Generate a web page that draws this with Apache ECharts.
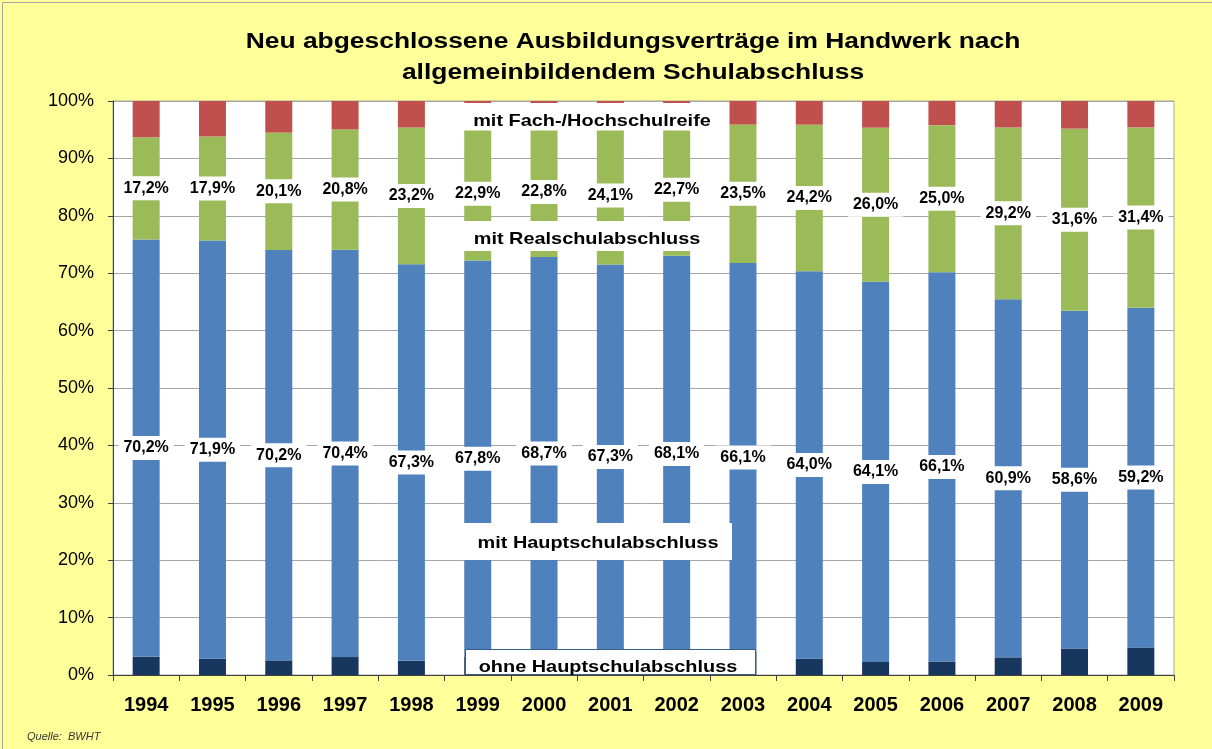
<!DOCTYPE html>
<html>
<head>
<meta charset="utf-8">
<script src="https://cdn.jsdelivr.net/npm/echarts@6/dist/echarts.min.js"></script>
<style>
html,body{margin:0;padding:0;background:#FFFF99;}
#chart{width:1212px;height:749px;}
</style>
</head>
<body>
<div id="chart"></div>
<script>
// Jahre
var years = ['1994','1995','1996','1997','1998','1999','2000','2001','2002','2003','2004','2005','2006','2007','2008','2009'];
// Anteile in % (Werte wie angegeben / aus dem Bild geschätzt)
var ohneHaupt = [3.1, 2.8, 2.5, 3.1, 2.4, 3.1, 4.4, 4.5, 3.9, 3.9, 2.7, 2.2, 2.3, 3.0, 4.6, 4.8];
var mitHaupt  = [70.2, 71.9, 70.2, 70.4, 67.3, 67.8, 68.7, 67.3, 68.1, 66.1, 64.0, 64.1, 66.1, 60.9, 58.6, 59.2];
var mitReal   = [17.2, 17.9, 20.1, 20.8, 23.2, 22.9, 22.8, 24.1, 22.7, 23.5, 24.2, 26.0, 25.0, 29.2, 31.6, 31.4];
var mitHoch   = [6.1, 6.1, 5.4, 4.9, 4.5, 4.4, 4.5, 4.5, 3.9, 4.0, 3.9, 4.5, 4.1, 4.5, 4.8, 4.6];
var yTicks = [0,10,20,30,40,50,60,70,80,90,100];

// 100%-Stapel: Normierung auf die Summe je Jahr
var totals = years.map(function(_, i){ return ohneHaupt[i] + mitHaupt[i] + mitReal[i] + mitHoch[i]; });
function share(arr){ return arr.map(function(v, i){ return v / totals[i] * 100; }); }
function fmt(v){ return v.toFixed(1).replace('.', ',') + '%'; }

var FONT = 'Liberation Sans, Arial, sans-serif';
var dataLabel = function(src){
  return {
    show: true, position: 'inside',
    formatter: function(p){ return fmt(src[p.dataIndex]); },
    color: '#000', fontFamily: FONT, fontWeight: 'bold', fontSize: 16,
    lineHeight: 18, backgroundColor: '#fff', padding: [3, 5]
  };
};

var chart = echarts.init(document.getElementById('chart'), null, {renderer: 'canvas'});
var option = {
  backgroundColor: '#FFFF99',
  animation: false,
  grid: {left: 113, right: 38, top: 101, bottom: 74, show: true, backgroundColor: '#fff', borderColor: '#A6A6A6', borderWidth: 1},
  xAxis: {
    type: 'category', data: years,
    axisLine: {lineStyle: {color: '#404040', width: 1}},
    axisTick: {show: true, length: 6, lineStyle: {color: '#404040'}},
    axisLabel: {color: '#000', fontFamily: FONT, fontWeight: 'bold', fontSize: 20, lineHeight: 20, margin: 20}
  },
  yAxis: {
    type: 'value', min: 0, max: 100, interval: 10,
    axisLine: {show: true, lineStyle: {color: '#404040', width: 1}},
    axisTick: {show: true, length: 5, lineStyle: {color: '#404040'}},
    axisLabel: {color: '#000', fontFamily: FONT, fontSize: 18, margin: 19,
      formatter: function(v){ return yTicks.indexOf(v) >= 0 ? v + '%' : ''; }},
    splitLine: {show: true, lineStyle: {color: '#A6A6A6', width: 1}}
  },
  series: [
    {name: 'ohne Hauptschulabschluss', type: 'bar', stack: 'a', barWidth: 27, data: share(ohneHaupt), itemStyle: {color: '#17375E'}},
    {name: 'mit Hauptschulabschluss', type: 'bar', stack: 'a', barWidth: 27, data: share(mitHaupt), itemStyle: {color: '#4F81BD'}, label: dataLabel(mitHaupt)},
    {name: 'mit Realschulabschluss', type: 'bar', stack: 'a', barWidth: 27, data: share(mitReal), itemStyle: {color: '#9BBB59'}, label: dataLabel(mitReal)},
    {name: 'mit Fach-/Hochschulreife', type: 'bar', stack: 'a', barWidth: 27, data: share(mitHoch), itemStyle: {color: '#C0504D'}}
  ],
  graphic: [
    {type: 'rect', z: 100, shape: {x: 2.5, y: 2.5, width: 1400, height: 1000}, style: {fill: 'none', stroke: '#A6A6A6', lineWidth: 1}},
    {type: 'text', z: 100, x: 633, y: 42, scaleX: 1.2, style: {text: 'Neu abgeschlossene Ausbildungsverträge im Handwerk nach', font: 'bold 22px ' + FONT, fill: '#000', textAlign: 'center', textVerticalAlign: 'middle'}},
    {type: 'text', z: 100, x: 633, y: 73, scaleX: 1.2, style: {text: 'allgemeinbildendem Schulabschluss', font: 'bold 22px ' + FONT, fill: '#000', textAlign: 'center', textVerticalAlign: 'middle'}},

    {type: 'rect', z: 100, shape: {x: 463, y: 103, width: 254, height: 27.5}, style: {fill: '#fff'}},
    {type: 'text', z: 101, x: 592, y: 121, scaleX: 1.17, style: {text: 'mit Fach-/Hochschulreife', font: 'bold 17px ' + FONT, fill: '#000', textAlign: 'center', textVerticalAlign: 'middle'}},

    {type: 'rect', z: 100, shape: {x: 463, y: 221, width: 254, height: 30}, style: {fill: '#fff'}},
    {type: 'text', z: 101, x: 587, y: 239, scaleX: 1.17, style: {text: 'mit Realschulabschluss', font: 'bold 17px ' + FONT, fill: '#000', textAlign: 'center', textVerticalAlign: 'middle'}},

    {type: 'rect', z: 100, shape: {x: 463, y: 523, width: 269, height: 37}, style: {fill: '#fff'}},
    {type: 'text', z: 101, x: 598, y: 543, scaleX: 1.17, style: {text: 'mit Hauptschulabschluss', font: 'bold 17px ' + FONT, fill: '#000', textAlign: 'center', textVerticalAlign: 'middle'}},

    {type: 'rect', z: 100, shape: {x: 465.5, y: 649.5, width: 290, height: 25}, style: {fill: '#fff', stroke: '#385D8A', lineWidth: 1}},
    {type: 'text', z: 101, x: 608, y: 667, scaleX: 1.17, style: {text: 'ohne Hauptschulabschluss', font: 'bold 17px ' + FONT, fill: '#000', textAlign: 'center', textVerticalAlign: 'middle'}},

    {type: 'text', z: 100, x: 27, y: 737, style: {text: 'Quelle:  BWHT', font: 'italic 11px ' + FONT, fill: '#333', textAlign: 'left', textVerticalAlign: 'middle'}}
  ]
};
chart.setOption(option);
</script>
</body>
</html>
